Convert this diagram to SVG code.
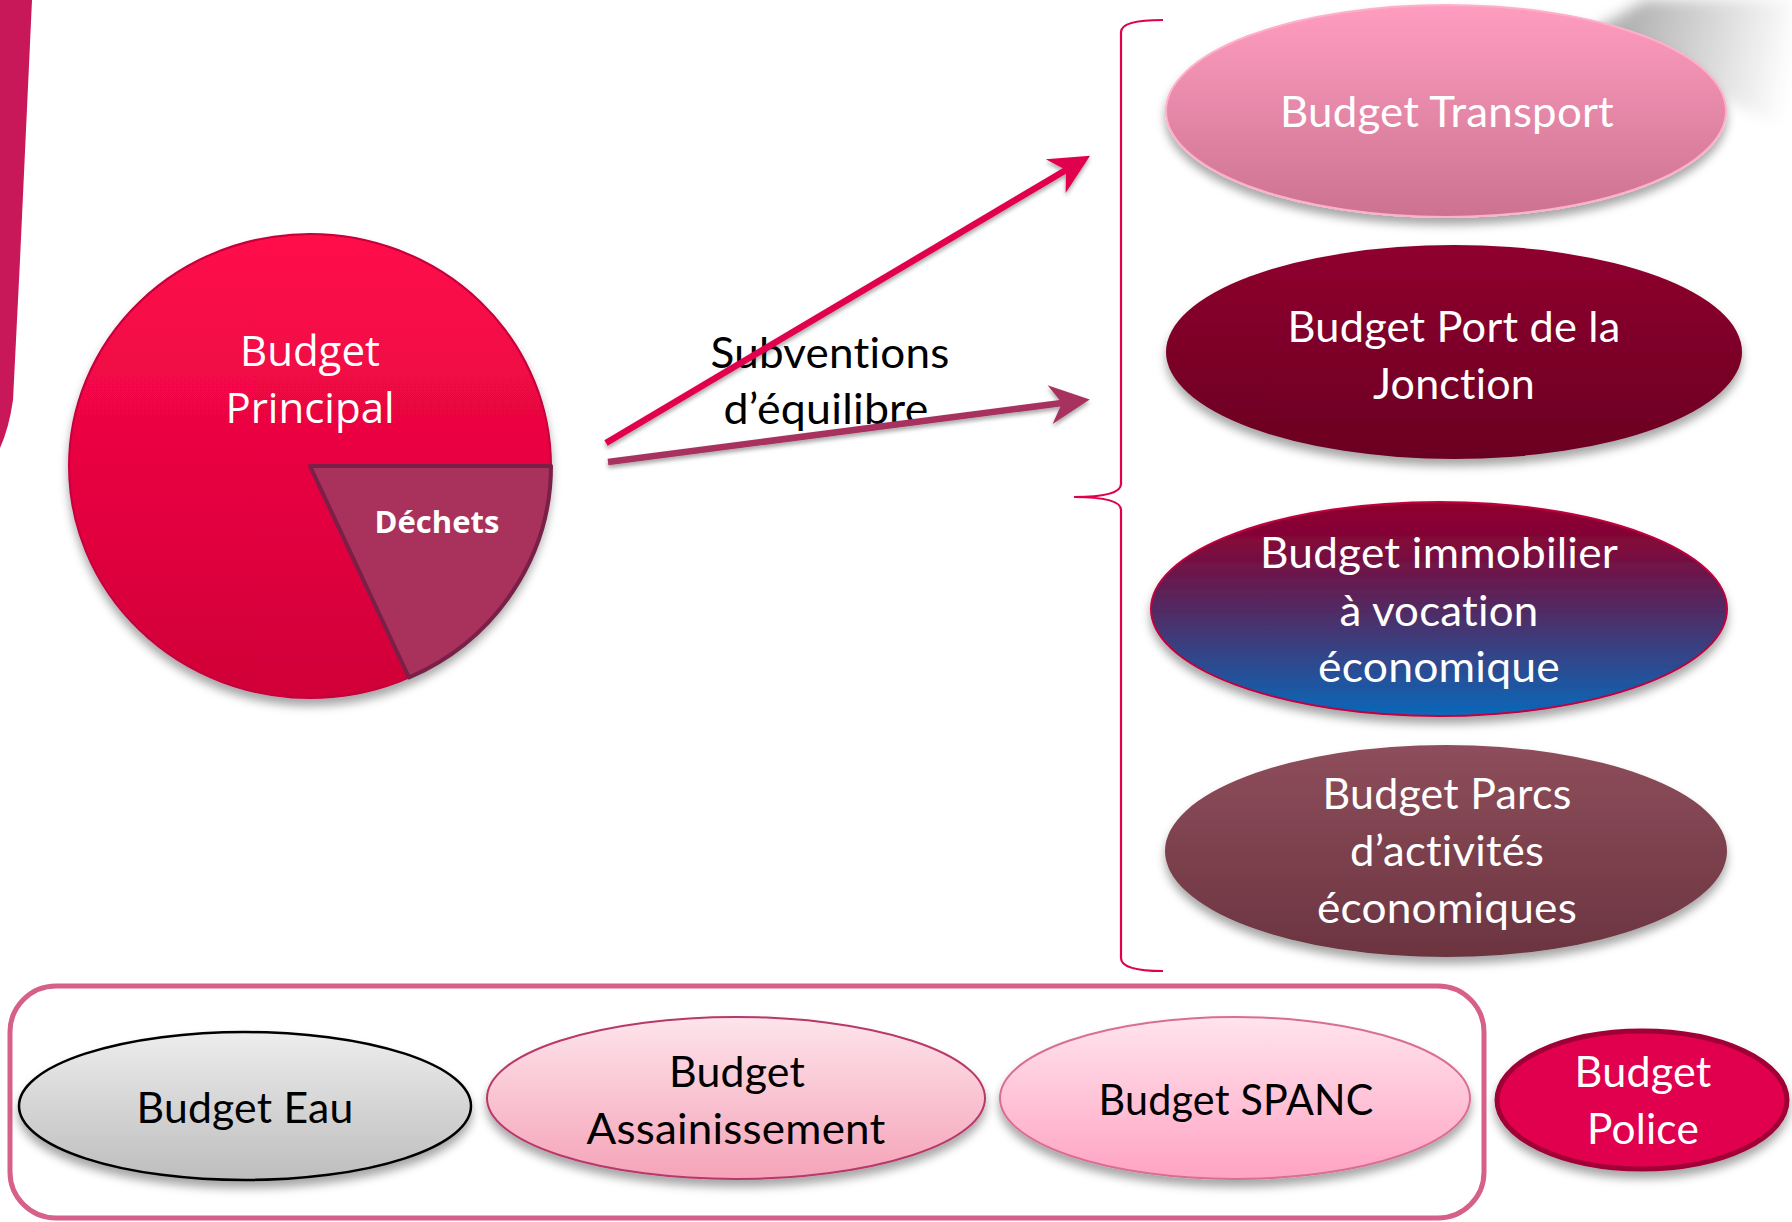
<svg xmlns="http://www.w3.org/2000/svg" width="1792" height="1222" viewBox="0 0 1792 1222">
  <defs>
    <style>
      .cal { font-family: Lato, "Open Sans", "Liberation Sans", sans-serif; font-size: 42px; text-anchor: middle; font-variant-ligatures: none; font-feature-settings: "liga" 0, "dlig" 0, "clig" 0; letter-spacing: 0.2px; }
      .w { fill: #ffffff; }
      .k { fill: #000000; }
      .seg { font-family: "Open Sans", "Liberation Sans", sans-serif; font-size: 42px; text-anchor: middle; fill: #ffffff; }
      .bold { font-family: "Open Sans", "Liberation Sans", sans-serif; font-size: 31px; font-weight: bold; text-anchor: middle; fill: #ffffff; }
      .arrow { fill: none; stroke-width: 6.5; stroke-linecap: butt; }
    </style>
    <filter id="sh" x="-20%" y="-20%" width="140%" height="150%">
      <feDropShadow dx="0" dy="7" stdDeviation="5" flood-color="#000000" flood-opacity="0.35"/>
    </filter>
    <filter id="shs" x="-10%" y="-30%" width="120%" height="160%">
      <feDropShadow dx="0" dy="3" stdDeviation="2" flood-color="#000000" flood-opacity="0.35"/>
    </filter>
    <filter id="blur" x="-20%" y="-20%" width="140%" height="140%">
      <feGaussianBlur stdDeviation="7"/>
    </filter>
    <linearGradient id="gTransport" x1="0" y1="0" x2="0" y2="1">
      <stop offset="0" stop-color="#FF9DC0"/>
      <stop offset="1" stop-color="#CC7290"/>
    </linearGradient>
    <linearGradient id="gPort" x1="0" y1="0" x2="0" y2="1">
      <stop offset="0" stop-color="#8F002E"/>
      <stop offset="1" stop-color="#6A0022"/>
    </linearGradient>
    <linearGradient id="gImmo" x1="0" y1="0" x2="0" y2="1">
      <stop offset="0" stop-color="#90002C"/>
      <stop offset="0.2" stop-color="#80083A"/>
      <stop offset="0.5" stop-color="#522A62"/>
      <stop offset="1" stop-color="#0A68BA"/>
    </linearGradient>
    <linearGradient id="gParcs" x1="0" y1="0" x2="0" y2="1">
      <stop offset="0" stop-color="#8E4E5B"/>
      <stop offset="1" stop-color="#6B3440"/>
    </linearGradient>
    <linearGradient id="gPie" x1="0" y1="0" x2="0" y2="1">
      <stop offset="0" stop-color="#FF0A4A"/>
      <stop offset="1" stop-color="#D00038"/>
    </linearGradient>
    <linearGradient id="gEau" x1="0" y1="0" x2="0" y2="1">
      <stop offset="0" stop-color="#EDEDED"/>
      <stop offset="1" stop-color="#BDBDBD"/>
    </linearGradient>
    <linearGradient id="gAss" x1="0" y1="0" x2="0" y2="1">
      <stop offset="0" stop-color="#FDE4EB"/>
      <stop offset="1" stop-color="#F5A3B8"/>
    </linearGradient>
    <linearGradient id="gSpanc" x1="0" y1="0" x2="0" y2="1">
      <stop offset="0" stop-color="#FFE4ED"/>
      <stop offset="1" stop-color="#FFA3C3"/>
    </linearGradient>
    <linearGradient id="gCurl" x1="1630" y1="40" x2="1792" y2="70" gradientUnits="userSpaceOnUse">
      <stop offset="0" stop-color="#B4B4B4"/>
      <stop offset="1" stop-color="#FFFFFF"/>
    </linearGradient>
    <marker id="headA" markerUnits="userSpaceOnUse" viewBox="-14 -21 44 42" refX="0" refY="0" markerWidth="44" markerHeight="42" orient="auto">
      <path d="M28,0 L-12,-19.5 L0,0 L-12,19.5 Z" fill="#E0004E"/>
    </marker>
    <marker id="headB" markerUnits="userSpaceOnUse" viewBox="-14 -21 44 42" refX="0" refY="0" markerWidth="44" markerHeight="42" orient="auto">
      <path d="M28,0 L-12,-19.5 L0,0 L-12,19.5 Z" fill="#A8325E"/>
    </marker>
  </defs>

  <rect width="1792" height="1222" fill="#FFFFFF"/>

  <!-- decorative background -->
  <g id="decor">
    <path d="M0,0 L32,0 L20,260 L13,400 Q9,428 0,448 Z" fill="#C8185A"/>
    <path d="M1645,0 L1792,0 L1792,130 C1740,110 1680,75 1590,32 Z" fill="url(#gCurl)" filter="url(#blur)"/>
  </g>

  <g id="label-subventions">
    <text class="cal k" x="830" y="368" textLength="239" lengthAdjust="spacingAndGlyphs">Subventions</text>
    <text class="cal k" x="826" y="424" textLength="205" lengthAdjust="spacingAndGlyphs">d’équilibre</text>
  </g>

  <!-- connectors -->
  <g id="connectors">
    <line x1="606" y1="443" x2="1066" y2="170" class="arrow" stroke="#E0004E" marker-end="url(#headA)" filter="url(#shs)"/>
    <line x1="608" y1="462" x2="1062" y2="403" class="arrow" stroke="#A8325E" marker-end="url(#headB)" filter="url(#shs)"/>
    <path d="M1163,20 Q1121,20 1121,32 L1121,484 Q1121,497 1074,497 Q1121,497 1121,510 L1121,958 Q1121,971 1163,971" fill="none" stroke="#E0004E" stroke-width="2.2"/>
  </g>

  <g id="budget-principal">
    <ellipse cx="310" cy="466" rx="241" ry="232" fill="url(#gPie)" stroke="#C4003C" stroke-width="2" filter="url(#sh)"/>
    <text class="seg" x="310" y="366">Budget</text>
    <text class="seg" x="310" y="423">Principal</text>
  </g>

  <g id="dechets">
    <path d="M310,466 L551,466 A241,232 0 0,1 409,677.5 Z" fill="#A8325C" stroke="#7A1F47" stroke-width="4" stroke-linejoin="round"/>
    <text class="bold" x="437" y="533">Déchets</text>
  </g>

  <g id="budget-transport">
    <ellipse cx="1446" cy="111" rx="280" ry="106" fill="url(#gTransport)" stroke="#FFB0C9" stroke-width="2" filter="url(#sh)"/>
    <text class="cal w" x="1447" y="127" textLength="334" lengthAdjust="spacingAndGlyphs">Budget Transport</text>
  </g>

  <g id="budget-port">
    <ellipse cx="1454" cy="352" rx="288" ry="107" fill="url(#gPort)" filter="url(#sh)"/>
    <text class="cal w" x="1454" y="342" textLength="333" lengthAdjust="spacingAndGlyphs">Budget Port de la</text>
    <text class="cal w" x="1454" y="399" textLength="162" lengthAdjust="spacingAndGlyphs">Jonction</text>
  </g>

  <g id="budget-immobilier">
    <ellipse cx="1439" cy="609" rx="288" ry="107" fill="url(#gImmo)" stroke="#C0003F" stroke-width="2" filter="url(#sh)"/>
    <text class="cal w" x="1439" y="568" textLength="358" lengthAdjust="spacingAndGlyphs">Budget immobilier</text>
    <text class="cal w" x="1439" y="626" textLength="199" lengthAdjust="spacingAndGlyphs">à vocation</text>
    <text class="cal w" x="1439" y="682" textLength="242" lengthAdjust="spacingAndGlyphs">économique</text>
  </g>

  <g id="budget-parcs">
    <ellipse cx="1446" cy="851" rx="281" ry="106" fill="url(#gParcs)" filter="url(#sh)"/>
    <text class="cal w" x="1447" y="809" textLength="249" lengthAdjust="spacingAndGlyphs">Budget Parcs</text>
    <text class="cal w" x="1447" y="866" textLength="194" lengthAdjust="spacingAndGlyphs">d’activités</text>
    <text class="cal w" x="1447" y="923" textLength="260" lengthAdjust="spacingAndGlyphs">économiques</text>
  </g>

  <g id="group-box">
    <rect x="10" y="986" width="1474" height="232" rx="46" ry="46" fill="none" stroke="#D6608A" stroke-width="5"/>
  </g>

  <g id="budget-eau">
    <ellipse cx="245" cy="1106" rx="226" ry="74" fill="url(#gEau)" stroke="#000000" stroke-width="2.5" filter="url(#sh)"/>
    <text class="cal k" x="245" y="1123" textLength="217" lengthAdjust="spacingAndGlyphs">Budget Eau</text>
  </g>

  <g id="budget-assainissement">
    <ellipse cx="736" cy="1098" rx="249" ry="81" fill="url(#gAss)" stroke="#B8386A" stroke-width="2" filter="url(#sh)"/>
    <text class="cal k" x="737" y="1087" textLength="136" lengthAdjust="spacingAndGlyphs">Budget</text>
    <text class="cal k" x="736" y="1144" textLength="299" lengthAdjust="spacingAndGlyphs">Assainissement</text>
  </g>

  <g id="budget-spanc">
    <ellipse cx="1235" cy="1098" rx="235" ry="81" fill="url(#gSpanc)" stroke="#D86E96" stroke-width="2" filter="url(#sh)"/>
    <text class="cal k" x="1236" y="1115" textLength="275" lengthAdjust="spacingAndGlyphs">Budget SPANC</text>
  </g>

  <g id="budget-police">
    <ellipse cx="1642" cy="1100" rx="145" ry="69" fill="#E0004D" stroke="#A00036" stroke-width="5" filter="url(#sh)"/>
    <text class="cal w" x="1643" y="1087" textLength="137" lengthAdjust="spacingAndGlyphs">Budget</text>
    <text class="cal w" x="1643" y="1144" textLength="112" lengthAdjust="spacingAndGlyphs">Police</text>
  </g>
</svg>
